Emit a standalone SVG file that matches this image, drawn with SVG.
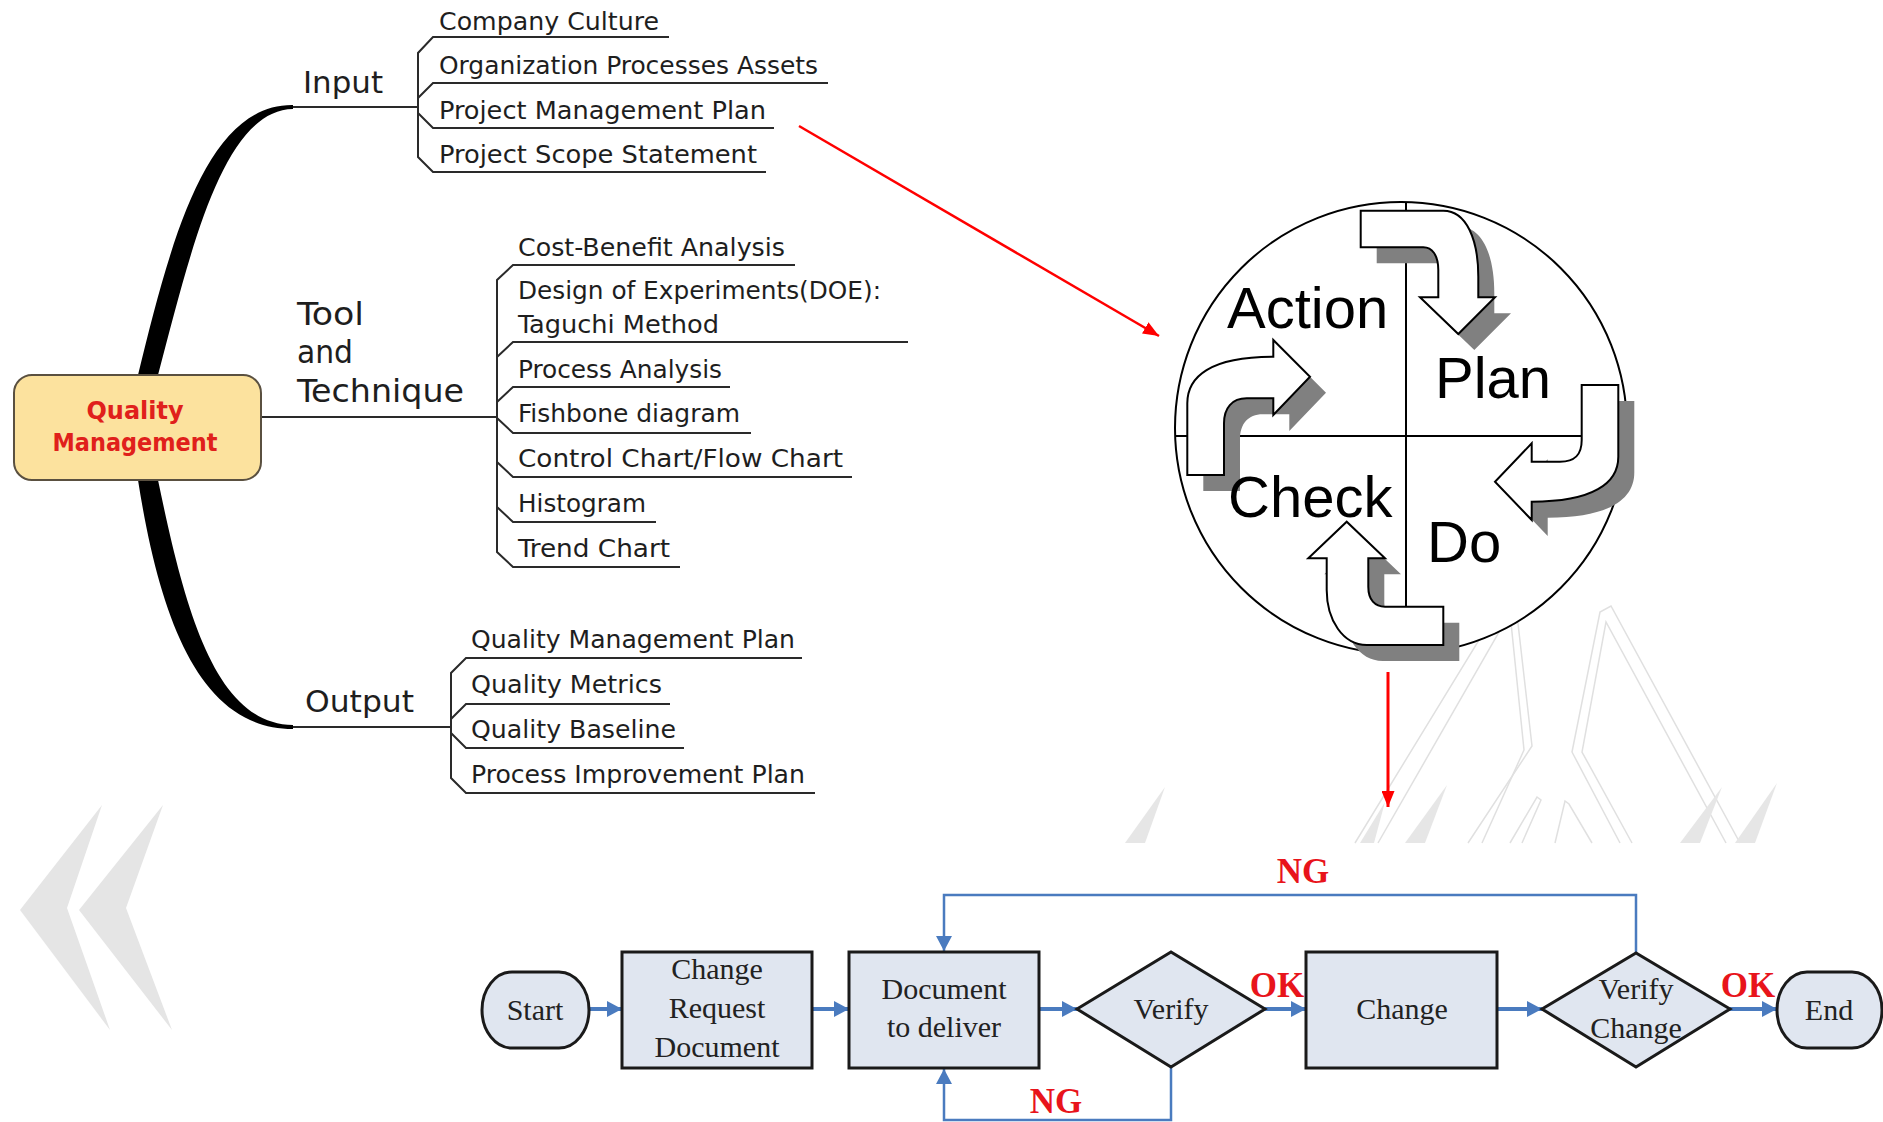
<svg xmlns="http://www.w3.org/2000/svg" width="1883" height="1122" viewBox="0 0 1883 1122">
<style>
.mm{font-family:"DejaVu Sans","Liberation Sans",sans-serif;font-stretch:condensed;fill:#1e1e1e;}
.it{font-size:25px;}
.ul{stroke:#2a2a2a;stroke-width:2;fill:none;}
.pd{font-family:"Liberation Sans",Arial,sans-serif;font-size:58px;fill:#000;}
.arr{fill:#fff;stroke:#000;stroke-width:2;stroke-linejoin:miter;}
.sh{fill:#808080;}
.fc{font-family:"Liberation Serif","Times New Roman",serif;font-size:30px;fill:#222;text-anchor:middle;}
.box{fill:#e0e6f0;stroke:#1a1a1a;stroke-width:3;}
.lbl{font-family:"Liberation Serif","Times New Roman",serif;font-size:35px;font-weight:bold;fill:#e8141b;text-anchor:middle;}
.fl{stroke:#4a7bbf;stroke-width:4;fill:none;}
.lp{stroke:#4a7bbf;stroke-width:2.5;fill:none;}
.deco{stroke:#e0e0e0;stroke-width:1.5;fill:none;}
</style>
<defs>
<marker id="redHead" markerUnits="userSpaceOnUse" markerWidth="16" markerHeight="13" viewBox="0 0 16 13" refX="16" refY="6.5" orient="auto">
<path d="M0 0 L16 6.5 L0 13 Z" fill="#ff0000"/>
</marker>
<marker id="blueHead" markerUnits="userSpaceOnUse" markerWidth="15" markerHeight="16" viewBox="0 0 15 16" refX="15" refY="8" orient="auto">
<path d="M0 0 L15 8 L0 16 Z" fill="#4a7bbf"/>
</marker>
</defs>
<rect width="1883" height="1122" fill="#fff"/>

<g id="decoration">
<polygon points="102,805 20,910 110,1030 67,908" fill="#e5e5e5"/>
<polygon points="163,805 79,910 172,1030 126,908" fill="#e5e5e5"/>
<path class="deco" d="M1355 843 L1504 599 L1516 606 L1532 746 L1468 843"/>
<path class="deco" d="M1378 843 L1510 613 L1524 750 L1482 843"/>
<path class="deco" d="M1620 843 L1572 752 L1600 612 L1611 606 L1740 843"/>
<path class="deco" d="M1632 843 L1582 752 L1606 622 L1726 843"/>
<path class="deco" d="M1510 843 L1537 797 L1541 800 L1522 843"/>
<path class="deco" d="M1555 843 L1565 801 L1569 804 L1592 843"/>
<polygon points="1165,787 1125,843 1145,843" fill="#e6e6e6"/>
<polygon points="1447,785 1405,843 1425,843" fill="#e6e6e6"/>
<polygon points="1385,802 1360,843 1374,843" fill="#e6e6e6"/>
<polygon points="1722,787 1680,843 1700,843" fill="#e6e6e6"/>
<polygon points="1777,783 1735,843 1755,843" fill="#e6e6e6"/>
</g>

<g id="connectors">
<path d="M138 375 C170 245 205 104 293 105 L293 109 C222 110 190 255 158 375 Z" fill="#000"/>
<path d="M138 480 C160 620 200 729 293 729 L293 725 C215 724 185 610 158 480 Z" fill="#000"/>
<path class="ul" d="M293 107 H418"/>
<path class="ul" d="M261 417 H497"/>
<path class="ul" d="M293 727 H451"/>
<line x1="799" y1="126" x2="1159" y2="336" stroke="#ff0000" stroke-width="2.5" marker-end="url(#redHead)"/>
<line x1="1388" y1="672" x2="1388" y2="807" stroke="#ff0000" stroke-width="3" marker-end="url(#redHead)"/>
<line class="fl" x1="589" y1="1009" x2="622" y2="1009" marker-end="url(#blueHead)"/>
<line class="fl" x1="812" y1="1009" x2="849" y2="1009" marker-end="url(#blueHead)"/>
<line class="fl" x1="1039" y1="1009" x2="1077" y2="1009" marker-end="url(#blueHead)"/>
<line class="fl" x1="1265" y1="1009" x2="1306" y2="1009" marker-end="url(#blueHead)"/>
<line class="fl" x1="1497" y1="1009" x2="1542" y2="1009" marker-end="url(#blueHead)"/>
<line class="fl" x1="1730" y1="1009" x2="1777" y2="1009" marker-end="url(#blueHead)"/>
<path class="lp" d="M1636 953 V895 H944 V951" marker-end="url(#blueHead)"/>
<path class="lp" d="M1171 1067 V1120 H944 V1069" marker-end="url(#blueHead)"/>
<text class="lbl" x="1303" y="883">NG</text>
<text class="lbl" x="1056" y="1113">NG</text>
<text class="lbl" x="1277" y="997">OK</text>
<text class="lbl" x="1748" y="997">OK</text>
</g>

<g id="quality-management">
<rect x="14" y="375" width="247" height="105" rx="18" ry="18" fill="#fce29e" stroke="#5a5040" stroke-width="2"/>
<text class="mm" x="135" y="419" font-size="25" font-weight="bold" style="fill:#e0201b" text-anchor="middle" textLength="97" lengthAdjust="spacingAndGlyphs">Quality</text>
<text class="mm" x="135" y="451" font-size="25" font-weight="bold" style="fill:#e0201b" text-anchor="middle" textLength="165" lengthAdjust="spacingAndGlyphs">Management</text>
</g>

<g id="input">
<text class="mm" x="303" y="93" font-size="31" textLength="80" lengthAdjust="spacingAndGlyphs">Input</text>
<path class="ul" d="M669 37 H433 L418 53 V157 L433 172 H766 M828 83 H433 L418 98 M418 113 L433 128 H774"/>
<text class="mm it" x="439" y="30" textLength="220" lengthAdjust="spacingAndGlyphs">Company Culture</text>
<text class="mm it" x="439" y="74" textLength="379" lengthAdjust="spacingAndGlyphs">Organization Processes Assets</text>
<text class="mm it" x="439" y="119" textLength="327" lengthAdjust="spacingAndGlyphs">Project Management Plan</text>
<text class="mm it" x="439" y="163" textLength="318" lengthAdjust="spacingAndGlyphs">Project Scope Statement</text>
</g>

<g id="tool-and-technique">
<text class="mm" x="297" y="325" font-size="32" textLength="67" lengthAdjust="spacingAndGlyphs">Tool</text>
<text class="mm" x="297" y="363" font-size="32" textLength="56" lengthAdjust="spacingAndGlyphs">and</text>
<text class="mm" x="297" y="402" font-size="32" textLength="167" lengthAdjust="spacingAndGlyphs">Technique</text>
<path class="ul" d="M795 265 H513 L497 280 V552 L513 567 H680 M908 342 H513 L497 357 M730 387 H513 L497 402 M497 418 L513 433 H751 M497 462 L513 477 H852 M497 507 L513 522 H656"/>
<text class="mm it" x="518" y="256" textLength="267" lengthAdjust="spacingAndGlyphs">Cost-Benefit Analysis</text>
<text class="mm it" x="518" y="299" textLength="363" lengthAdjust="spacingAndGlyphs">Design of Experiments(DOE):</text>
<text class="mm it" x="518" y="333" textLength="201" lengthAdjust="spacingAndGlyphs">Taguchi Method</text>
<text class="mm it" x="518" y="378" textLength="204" lengthAdjust="spacingAndGlyphs">Process Analysis</text>
<text class="mm it" x="518" y="422" textLength="222" lengthAdjust="spacingAndGlyphs">Fishbone diagram</text>
<text class="mm it" x="518" y="467" textLength="325" lengthAdjust="spacingAndGlyphs">Control Chart/Flow Chart</text>
<text class="mm it" x="518" y="512" textLength="128" lengthAdjust="spacingAndGlyphs">Histogram</text>
<text class="mm it" x="518" y="557" textLength="152" lengthAdjust="spacingAndGlyphs">Trend Chart</text>
</g>

<g id="output">
<text class="mm" x="305" y="712" font-size="31" textLength="109" lengthAdjust="spacingAndGlyphs">Output</text>
<path class="ul" d="M802 658 H466 L451 673 V778 L466 793 H815 M670 704 H466 L451 719 M451 733 L466 748 H684"/>
<text class="mm it" x="471" y="648" textLength="324" lengthAdjust="spacingAndGlyphs">Quality Management Plan</text>
<text class="mm it" x="471" y="693" textLength="191" lengthAdjust="spacingAndGlyphs">Quality Metrics</text>
<text class="mm it" x="471" y="738" textLength="205" lengthAdjust="spacingAndGlyphs">Quality Baseline</text>
<text class="mm it" x="471" y="783" textLength="334" lengthAdjust="spacingAndGlyphs">Process Improvement Plan</text>
</g>

<g id="pdca-cycle">
<circle cx="1401" cy="428" r="226" fill="#fff" stroke="#000" stroke-width="2"/>
<line x1="1406" y1="202" x2="1406" y2="655" stroke="#000" stroke-width="2"/>
<line x1="1175" y1="436" x2="1627" y2="436" stroke="#000" stroke-width="2"/>
<g transform="translate(16,16)">
<path class="sh" d="M1360.7 210.7 L1443.3 210.7 C1466.7 210.7 1478.3 240 1478.3 276.7 L1478.3 297.3 L1495 297.3 L1458.3 334 L1420 297.3 L1438.3 297.3 L1438.3 270 C1438.3 255 1432 247.3 1423.3 247.3 L1360.7 247.3 Z"/>
<path class="sh" d="M1581.7 385 L1618.3 385 L1618.3 456.7 C1618.3 483.3 1593 501.7 1531.7 501.7 L1531.7 520 L1495 481.7 L1531.7 443.3 L1531.7 461.7 L1560 461.7 C1575 461.7 1581.7 455 1581.7 440 Z"/>
<path class="sh" d="M1443.3 606.7 L1443.3 645 L1366.7 645 C1343 645 1326.7 620 1326.7 590 L1326.7 558.3 L1308.3 558.3 L1346.7 521.7 L1385 558.3 L1368.3 558.3 L1368.3 586.7 C1368.3 600 1375 606.7 1385 606.7 Z"/>
<path class="sh" d="M1187.3 475 L1187.3 403.3 C1187.3 376.7 1210 356.7 1273.3 356.7 L1273.3 340 L1310 376.7 L1273.3 415 L1273.3 398.3 L1246.7 398.3 C1232 398.3 1224 408 1224 423.3 L1224 475 Z"/>
</g>
<path class="arr" d="M1360.7 210.7 L1443.3 210.7 C1466.7 210.7 1478.3 240 1478.3 276.7 L1478.3 297.3 L1495 297.3 L1458.3 334 L1420 297.3 L1438.3 297.3 L1438.3 270 C1438.3 255 1432 247.3 1423.3 247.3 L1360.7 247.3 Z"/>
<path class="arr" d="M1581.7 385 L1618.3 385 L1618.3 456.7 C1618.3 483.3 1593 501.7 1531.7 501.7 L1531.7 520 L1495 481.7 L1531.7 443.3 L1531.7 461.7 L1560 461.7 C1575 461.7 1581.7 455 1581.7 440 Z"/>
<path class="arr" d="M1443.3 606.7 L1443.3 645 L1366.7 645 C1343 645 1326.7 620 1326.7 590 L1326.7 558.3 L1308.3 558.3 L1346.7 521.7 L1385 558.3 L1368.3 558.3 L1368.3 586.7 C1368.3 600 1375 606.7 1385 606.7 Z"/>
<path class="arr" d="M1187.3 475 L1187.3 403.3 C1187.3 376.7 1210 356.7 1273.3 356.7 L1273.3 340 L1310 376.7 L1273.3 415 L1273.3 398.3 L1246.7 398.3 C1232 398.3 1224 408 1224 423.3 L1224 475 Z"/>
<text class="pd" x="1227" y="328">Action</text>
<text class="pd" x="1435" y="398">Plan</text>
<text class="pd" x="1228" y="517">Check</text>
<text class="pd" x="1427" y="562">Do</text>
</g>

<g id="fc-start">
<rect class="box" x="482" y="972" width="107" height="76" rx="30" ry="38"/>
<text class="fc" x="535" y="1020">Start</text>
</g>
<g id="fc-change-request">
<rect class="box" x="622" y="952" width="190" height="116"/>
<text class="fc" x="717" y="979">Change</text>
<text class="fc" x="717" y="1018">Request</text>
<text class="fc" x="717" y="1057">Document</text>
</g>
<g id="fc-document-deliver">
<rect class="box" x="849" y="952" width="190" height="116"/>
<text class="fc" x="944" y="999">Document</text>
<text class="fc" x="944" y="1037">to deliver</text>
</g>
<g id="fc-verify">
<polygon class="box" points="1077,1009 1171,952 1265,1009 1171,1067"/>
<text class="fc" x="1171" y="1019">Verify</text>
</g>
<g id="fc-change">
<rect class="box" x="1306" y="952" width="191" height="116"/>
<text class="fc" x="1402" y="1019">Change</text>
</g>
<g id="fc-verify-change">
<polygon class="box" points="1542,1009 1636,953 1730,1009 1636,1067"/>
<text class="fc" x="1636" y="999">Verify</text>
<text class="fc" x="1636" y="1038">Change</text>
</g>
<g id="fc-end">
<rect class="box" x="1777" y="972" width="105" height="76" rx="30" ry="38"/>
<text class="fc" x="1829" y="1020">End</text>
</g>
</svg>
